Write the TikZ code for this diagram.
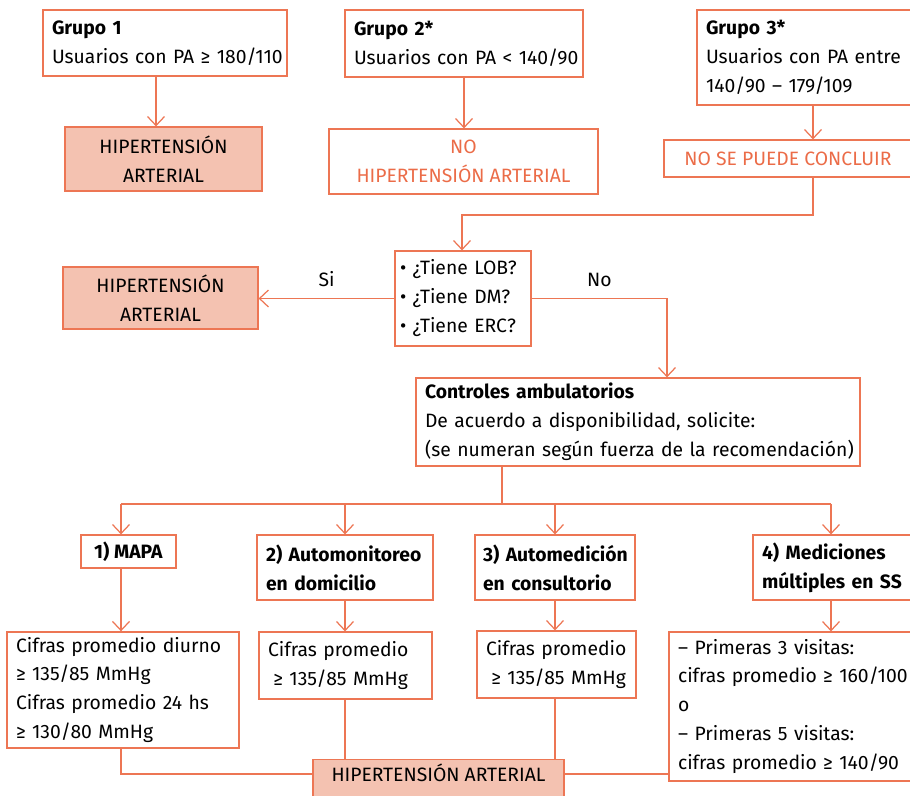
\documentclass[tikz,border=0pt]{standalone}
\usepackage{fontspec}
\setmainfont{Fira Sans}
\usetikzlibrary{arrows.meta}
\definecolor{naranja}{RGB}{237,118,84}
\definecolor{salmon}{RGB}{244,194,177}
\definecolor{textonar}{RGB}{235,108,72}

\begin{document}
\begin{tikzpicture}[x=0.02cm,y=-0.02cm,>={Straight Barb[length=1.8mm,width=3.4mm]},
  caja/.style={draw=naranja,line width=0.7pt,inner xsep=0.18cm,inner ysep=0.1cm,
    font=\fontsize{11}{16.5}\selectfont},
  izq/.style={caja,align=left,execute at begin node={\rightskip=0pt minus 3cm\relax}},
  hta/.style={caja,fill=salmon,align=center},
  conclu/.style={caja,text=textonar,align=center},
  etiq/.style={above=3pt,text=black,font=\fontsize{11}{16.5}\selectfont},
  linea/.style={draw=naranja,line width=0.7pt}]
  \useasboundingbox (0,0) rectangle (910,795);

  \node[izq,text width=4.52cm,minimum height=1.32cm] (G1) at (165,43)
    {\textbf{Grupo 1}\\Usuarios con PA ≥ 180/110};
  \node[hta,minimum width=3.94cm,minimum height=1.28cm] (HTA1) at (163.5,159)
    {HIPERTENSIÓN\\ARTERIAL};
  \node[izq,text width=4.40cm,minimum height=1.34cm] (G2) at (464,43.5)
    {\textbf{Grupo 2*}\\Usuarios con PA < 140/90};
  \node[conclu,minimum width=5.38cm,minimum height=1.30cm] (NOHTA) at (463.5,161.5)
    {NO\\HIPERTENSIÓN ARTERIAL};
  \node[izq,text width=3.94cm,minimum height=1.9cm] (G3) at (804.5,57.5)
    {\textbf{Grupo 3*}\\Usuarios con PA entre\\140/90 – 179/109};
  \node[conclu,minimum width=4.96cm,minimum height=0.74cm] (NSPC) at (788,158.5)
    {NO SE PUEDE CONCLUIR};

  \node[izq,inner xsep=0.1cm,text width=2.52cm,minimum height=1.9cm] (Q) at (463,298.5)
    {• ¿Tiene LOB?\\• ¿Tiene DM?\\• ¿Tiene ERC?};
  \node[hta,minimum width=3.9cm,minimum height=1.24cm] (HTA2) at (160.5,298)
    {HIPERTENSIÓN\\ARTERIAL};
  \node[izq,text width=8.52cm,minimum height=1.76cm] (CTRL) at (638,422)
    {\textbf{Controles ambulatorios}\\De acuerdo a disponibilidad, solicite:\\(se numeran según fuerza de la recomendación)};

  \node[caja,minimum width=1.9cm,minimum height=0.66cm] (M1) at (128.5,551.5)
    {\textbf{1) MAPA}};
  \node[izq,text width=3.16cm,minimum height=1.3cm] (M2) at (345,567.5)
    {\textbf{2) Automonitoreo}\\\textbf{en domicilio}};
  \node[izq,inner xsep=0.16cm,text width=2.88cm,minimum height=1.3cm] (M3) at (555,567.5)
    {\textbf{3) Automedición}\\\textbf{en consultorio}};
  \node[izq,text width=2.82cm,minimum height=1.3cm] (M4) at (832.5,567.5)
    {\textbf{4) Mediciones}\\\textbf{múltiples en SS}};

  \node[izq,text width=4.28cm,minimum height=2.28cm] (R1) at (123,690)
    {Cifras promedio diurno\\≥ 135/85 MmHg\\Cifras promedio 24 hs\\≥ 130/80 MmHg};
  \node[izq,text width=3.10cm,minimum height=1.34cm] (R2) at (345.5,665.5)
    {Cifras promedio\\\hspace*{3pt}≥ 135/85 MmHg};
  \node[izq,text width=2.82cm,minimum height=1.34cm] (R3) at (556.5,664.5)
    {Cifras promedio\\\hspace*{3pt}≥ 135/85 MmHg};
  \node[izq,text width=4.5cm,minimum height=2.98cm] (R4) at (790.5,706.5)
    {– Primeras 3 visitas:\\cifras promedio ≥ 160/100\\o\\– Primeras 5 visitas:\\cifras promedio ≥ 140/90};
  \node[hta,anchor=north,minimum width=5.02cm,text height=0.34cm,text depth=0.38cm] (FIN) at (438.5,759)
    {HIPERTENSIÓN ARTERIAL};

  % puntos de paso
  \coordinate (a1) at (156,100);
  \coordinate (a3) at (813,120);
  \coordinate (c1) at (813,215);
  \coordinate (c2) at (462,215);
  \coordinate (c3) at (667,298.5);
  \coordinate (cb) at (502,504);
  \coordinate (b1) at (121,504);
  \coordinate (b2) at (345,504);
  \coordinate (b3) at (555,504);
  \coordinate (b4) at (831,504);
  \coordinate (j1) at (121,774);

  \draw[linea,->] (a1 |- G1.south) -- (a1 |- HTA1.north);
  \draw[linea,->] (G2.south) -- (G2.south |- NOHTA.north);
  \draw[linea,->] (a3 |- G3.south) -- (a3 |- NSPC.north);
  \draw[linea,->] (a3 |- NSPC.south) -- (c1) -- (c2) -- (c2 |- Q.north);
  \draw[linea,->] (Q.west) -- node[etiq]{Si} (Q.west -| HTA2.east);
  \draw[linea,->] (Q.east) -- node[etiq]{No} (c3) -- (c3 |- CTRL.north);

  \draw[linea] (cb |- CTRL.south) -- (cb);
  \draw[linea] (b1) -- (b4);
  \foreach \b/\m/\r in {b1/M1/R1,b2/M2/R2,b3/M3/R3,b4/M4/R4} {
    \draw[linea,->] (\b) -- (\b |- \m.north);
    \draw[linea,->] (\b |- \m.south) -- (\b |- \r.north);
  }

  \draw[linea] (b1 |- R1.south) -- (j1) -- (j1 -| FIN.west);
  \draw[linea] (b2 |- R2.south) -- (b2 |- FIN.north);
  \draw[linea] (b3 |- R3.south) -- (b3 |- FIN.north);
  \draw[linea] (R4.west |- j1) -- (FIN.east |- j1);
\end{tikzpicture}
\end{document}
